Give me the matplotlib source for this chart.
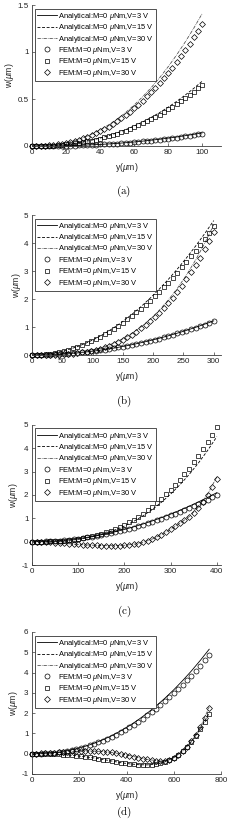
import numpy as np
import matplotlib
matplotlib.use("Agg")
import matplotlib.pyplot as plt

plt.rcParams['font.family'] = ['Liberation Sans', 'DejaVu Sans']
plt.rcParams['mathtext.fontset'] = 'custom'
plt.rcParams['mathtext.it'] = 'Liberation Sans:italic'
plt.rcParams['mathtext.rm'] = 'Liberation Sans'

# ---------------- data ----------------
lengths = [100, 300, 400, 750]
xlims = [111, 312, 409, 800]
ylims = [(0, 1.5), (0, 5), (-1, 5), (-1, 6)]
yticks = [[0, 0.5, 1, 1.5], [0, 1, 2, 3, 4, 5], [-1, 0, 1, 2, 3, 4, 5], [-1, 0, 1, 2, 3, 4, 5, 6]]
ytick_labels = [["0", "0.5", "1", "1.5"], ["0", "1", "2", "3", "4", "5"],
                ["-1", "0", "1", "2", "3", "4", "5"], ["-1", "0", "1", "2", "3", "4", "5", "6"]]
xticks = [[0, 20, 40, 60, 80, 100], [0, 50, 100, 150, 200, 250, 300],
          [0, 100, 200, 300, 400], [0, 200, 400, 600, 800]]
panel_labels = ["(a)", "(b)", "(c)", "(d)"]
legend_labels = ["Analytical:M=0 $\\mu$Nm,V=3 V", "Analytical:M=0 $\\mu$Nm,V=15 V",
                 "Analytical:M=0 $\\mu$Nm,V=30 V", "FEM:M=0 $\\mu$Nm,V=3 V",
                 "FEM:M=0 $\\mu$Nm,V=15 V", "FEM:M=0 $\\mu$Nm,V=30 V"]

# panel (a)
a_ana_3 = [0, 0.000, 0.001, 0.002, 0.003, 0.006, 0.009, 0.013, 0.017, 0.022, 0.028,
           0.035, 0.043, 0.052, 0.062, 0.072, 0.084, 0.096, 0.110, 0.124, 0.140]
a_ana_15 = [0, 0.001, 0.003, 0.009, 0.017, 0.028, 0.043, 0.062, 0.084, 0.110, 0.140,
            0.174, 0.213, 0.256, 0.304, 0.356, 0.413, 0.475, 0.542, 0.613, 0.690]
a_ana_30 = [0, 0.001, 0.007, 0.018, 0.035, 0.058, 0.088, 0.126, 0.171, 0.225, 0.286,
            0.356, 0.436, 0.524, 0.621, 0.727, 0.844, 0.970, 1.107, 1.253, 1.410]
a_fem_3 = [0, 0, 0, 0, 0.001, 0.001, 0.002, 0.002, 0.003, 0.004, 0.005, 0.007, 0.008, 0.010,
           0.012, 0.014, 0.016, 0.018, 0.021, 0.023, 0.026, 0.030, 0.033, 0.036, 0.040, 0.044,
           0.048, 0.053, 0.057, 0.062, 0.067, 0.072, 0.078, 0.084, 0.089, 0.096, 0.102, 0.109,
           0.116, 0.123, 0.130]
a_fem_15 = [0, 0.000, 0.001, 0.002, 0.003, 0.005, 0.008, 0.012, 0.016, 0.021, 0.027, 0.033,
            0.041, 0.049, 0.058, 0.068, 0.079, 0.091, 0.104, 0.117, 0.132, 0.148, 0.164, 0.182,
            0.201, 0.220, 0.241, 0.263, 0.286, 0.310, 0.335, 0.362, 0.389, 0.418, 0.447, 0.478,
            0.510, 0.543, 0.578, 0.613, 0.650]
a_fem_30 = [0, 0.000, 0.001, 0.003, 0.007, 0.011, 0.017, 0.024, 0.032, 0.042, 0.054, 0.067,
            0.082, 0.098, 0.116, 0.136, 0.158, 0.182, 0.207, 0.235, 0.264, 0.295, 0.329, 0.364,
            0.402, 0.441, 0.483, 0.527, 0.572, 0.620, 0.671, 0.723, 0.778, 0.835, 0.894, 0.957,
            1.020, 1.087, 1.156, 1.226, 1.300]

# panel (b)
b_ana_3 = [0, 0.003, 0.012, 0.027, 0.049, 0.076, 0.110, 0.149, 0.195, 0.247, 0.305,
           0.369, 0.439, 0.515, 0.598, 0.686, 0.781, 0.881, 0.988, 1.101, 1.220]
b_ana_15 = [0, 0.012, 0.048, 0.108, 0.192, 0.300, 0.432, 0.588, 0.768, 0.972, 1.200,
            1.452, 1.728, 2.028, 2.352, 2.700, 3.072, 3.468, 3.888, 4.332, 4.800]
b_ana_30 = [0, 0.001, 0.005, 0.016, 0.037, 0.073, 0.126, 0.199, 0.298, 0.424, 0.581,
            0.774, 1.004, 1.277, 1.595, 1.962, 2.381, 2.856, 3.390, 3.987, 4.650]
b_fem_3 = [0, 0.001, 0.003, 0.007, 0.012, 0.019, 0.027, 0.037, 0.048, 0.061, 0.075, 0.091,
           0.108, 0.127, 0.147, 0.169, 0.192, 0.217, 0.243, 0.271, 0.300, 0.331, 0.363, 0.397,
           0.432, 0.469, 0.507, 0.547, 0.588, 0.631, 0.675, 0.721, 0.768, 0.817, 0.867, 0.919,
           0.972, 1.027, 1.083, 1.141, 1.200]
b_fem_15 = [0, 0.003, 0.012, 0.026, 0.046, 0.072, 0.104, 0.141, 0.184, 0.233, 0.288, 0.348,
            0.414, 0.486, 0.564, 0.647, 0.736, 0.831, 0.932, 1.038, 1.150, 1.268, 1.392, 1.521,
            1.656, 1.797, 1.944, 2.096, 2.254, 2.418, 2.588, 2.763, 2.944, 3.131, 3.324, 3.522,
            3.726, 3.936, 4.152, 4.373, 4.600]
b_fem_30 = [0, 0.000, 0.001, 0.002, 0.004, 0.009, 0.015, 0.024, 0.035, 0.050, 0.069, 0.092,
            0.119, 0.151, 0.189, 0.232, 0.282, 0.338, 0.401, 0.472, 0.550, 0.637, 0.732, 0.837,
            0.950, 1.074, 1.208, 1.353, 1.509, 1.677, 1.856, 2.048, 2.253, 2.471, 2.702, 2.948,
            3.208, 3.482, 3.773, 4.078, 4.400]

# panel (c)
c_ana_3 = [0, 0.005, 0.021, 0.047, 0.084, 0.131, 0.189, 0.257, 0.336, 0.425, 0.525,
           0.635, 0.756, 0.887, 1.029, 1.181, 1.344, 1.517, 1.701, 1.895, 2.100]
c_ana_15 = [0, 0.001, 0.008, 0.024, 0.054, 0.100, 0.164, 0.251, 0.362, 0.501, 0.669,
            0.869, 1.104, 1.376, 1.687, 2.040, 2.436, 2.878, 3.368, 3.908, 4.500]
c_ana_30 = [0, -0.01, -0.03, -0.06, -0.09, -0.12, -0.14, -0.16, -0.17, -0.17, -0.155,
            -0.11, -0.03, 0.11, 0.30, 0.53, 0.79, 1.07, 1.48, 2.03, 2.78]
c_fem_3 = [0, 0.001, 0.005, 0.011, 0.020, 0.031, 0.045, 0.061, 0.080, 0.101, 0.125, 0.151,
           0.180, 0.211, 0.245, 0.281, 0.320, 0.361, 0.405, 0.451, 0.500, 0.551, 0.605, 0.661,
           0.720, 0.781, 0.845, 0.911, 0.980, 1.051, 1.125, 1.201, 1.280, 1.361, 1.445, 1.531,
           1.620, 1.711, 1.805, 1.901, 2.000]
c_fem_15 = [0, 0.000, 0.001, 0.004, 0.009, 0.016, 0.027, 0.041, 0.059, 0.081, 0.108, 0.141,
            0.179, 0.223, 0.273, 0.330, 0.394, 0.466, 0.545, 0.633, 0.728, 0.833, 0.947, 1.070,
            1.203, 1.346, 1.499, 1.663, 1.837, 2.024, 2.221, 2.431, 2.653, 2.887, 3.134, 3.394,
            3.668, 3.954, 4.255, 4.570, 4.900]
c_fem_30 = [0, -0.005, -0.01, -0.02, -0.03, -0.045, -0.06, -0.075, -0.09, -0.105, -0.12,
            -0.13, -0.14, -0.15, -0.16, -0.165, -0.17, -0.17, -0.17, -0.165, -0.155, -0.14,
            -0.115, -0.08, -0.035, 0.05, 0.12, 0.20, 0.30, 0.42, 0.54, 0.66, 0.79, 0.92, 1.06,
            1.24, 1.46, 1.72, 2.00, 2.33, 2.68]

# panel (d)
d_ana_3 = [0, 0.007, 0.033, 0.077, 0.149, 0.244, 0.364, 0.512, 0.687, 0.888, 1.122,
           1.382, 1.674, 1.998, 2.349, 2.735, 3.151, 3.602, 4.084, 4.602, 5.150]
d_ana_15 = [0, 0, -0.01, -0.03, -0.06, -0.10, -0.15, -0.21, -0.28, -0.36, -0.44,
            -0.50, -0.54, -0.55, -0.51, -0.40, -0.19, 0.14, 0.60, 1.22, 2.00]
d_ana_30 = [0, 0.015, 0.04, 0.07, 0.10, 0.12, 0.135, 0.13, 0.105, 0.06, -0.005,
            -0.09, -0.19, -0.28, -0.34, -0.34, -0.20, 0.12, 0.62, 1.30, 2.30]
d_fem_3 = [0, 0.002, 0.007, 0.016, 0.031, 0.050, 0.075, 0.105, 0.141, 0.183, 0.230, 0.284,
           0.344, 0.410, 0.483, 0.562, 0.648, 0.740, 0.838, 0.945, 1.059, 1.178, 1.304, 1.438,
           1.580, 1.728, 1.885, 2.046, 2.217, 2.396, 2.581, 2.773, 2.973, 3.182, 3.399, 3.624,
           3.854, 4.096, 4.342, 4.597, 4.860]
d_fem_15 = [0, 0, 0, -0.005, -0.01, -0.02, -0.03, -0.045, -0.06, -0.08, -0.10, -0.12, -0.15,
            -0.18, -0.21, -0.25, -0.29, -0.33, -0.37, -0.41, -0.45, -0.48, -0.51, -0.53, -0.55,
            -0.56, -0.56, -0.55, -0.52, -0.47, -0.40, -0.31, -0.19, -0.04, 0.14, 0.35, 0.60,
            0.88, 1.20, 1.55, 1.95]
d_fem_30 = [0, 0.005, 0.015, 0.025, 0.04, 0.055, 0.07, 0.085, 0.10, 0.11, 0.12, 0.13, 0.135,
            0.135, 0.13, 0.12, 0.105, 0.085, 0.06, 0.03, -0.005, -0.045, -0.09, -0.14, -0.19,
            -0.24, -0.28, -0.32, -0.34, -0.35, -0.34, -0.29, -0.20, -0.06, 0.12, 0.35, 0.62,
            0.93, 1.30, 1.75, 2.25]

panels = [
    (a_ana_3, a_ana_15, a_ana_30, a_fem_3, a_fem_15, a_fem_30),
    (b_ana_3, b_ana_15, b_ana_30, b_fem_3, b_fem_15, b_fem_30),
    (c_ana_3, c_ana_15, c_ana_30, c_fem_3, c_fem_15, c_fem_30),
    (d_ana_3, d_ana_15, d_ana_30, d_fem_3, d_fem_15, d_fem_30),
]

# ---------------- layout ----------------
W, H = 244, 824
fig = plt.figure(figsize=(W / 100, H / 100), dpi=100)
boxes = [(5, 146), (215, 355), (425, 565), (632, 774)]
label_y = [191, 401, 611, 812]
axcol = '#3a3a3a'

for i, (top, bot) in enumerate(boxes):
    ax = fig.add_axes([32 / W, 1 - bot / H, (221 - 32) / W, (bot - top) / H])
    L = lengths[i]
    ana3, ana15, ana30, fem3, fem15, fem30 = panels[i]
    xl = np.linspace(0, L, len(ana3))
    xf = np.linspace(0, L, len(fem3))
    ax.plot(xl, ana3, '-', color='black', lw=0.6, label=legend_labels[0])
    ax.plot(xl, ana15, '--', color='black', lw=0.6, dashes=(3.5, 2), label=legend_labels[1])
    ax.plot(xl, ana30, '-.', color='#555555', lw=0.6, dashes=(4, 1.2, 0.8, 1.2), label=legend_labels[2])
    mk = dict(linestyle='none', mfc='none', mec='black', mew=0.5, ms=3.6, clip_on=False)
    ax.plot(xf, fem3, marker='o', label=legend_labels[3], **mk)
    ax.plot(xf, fem15, marker='s', label=legend_labels[4], **{**mk, 'ms': 3.2})
    ax.plot(xf, fem30, marker='D', label=legend_labels[5], **{**mk, 'ms': 3.0})

    ax.set_xlim(0, xlims[i])
    ax.set_ylim(*ylims[i])
    ax.set_xticks(xticks[i])
    ax.set_yticks(yticks[i])
    ax.set_yticklabels(ytick_labels[i])
    for s in ['top', 'right']:
        ax.spines[s].set_visible(False)
    for s in ['left', 'bottom']:
        ax.spines[s].set_color(axcol)
        ax.spines[s].set_linewidth(0.6)
    ax.tick_params(direction='in', length=2, width=0.5, color=axcol,
                   labelsize=5.8, pad=2.5, labelcolor='#222222')
    ax.set_xlabel('y($\\mu$m)', fontsize=6.2, labelpad=3.5, color='#222222')
    ax.set_ylabel('w($\\mu$m)', fontsize=6.2, labelpad=1.0, color='#222222')
    leg = ax.legend(loc='upper left', bbox_to_anchor=(0.015, 0.975), fontsize=5.4,
                    frameon=True, fancybox=False, edgecolor='#333333', framealpha=1,
                    handlelength=2.6, handletextpad=0.25, labelspacing=0.05,
                    borderpad=0.3, borderaxespad=0, markerscale=1.0)
    leg.get_frame().set_linewidth(0.6)
    fig.text(0.508, 1 - label_y[i] / H, '$\\mathrm{' + panel_labels[i] + '}$',
             math_fontfamily='cm', fontsize=8, ha='center', va='center')

fig.savefig('out.png', dpi=100)
